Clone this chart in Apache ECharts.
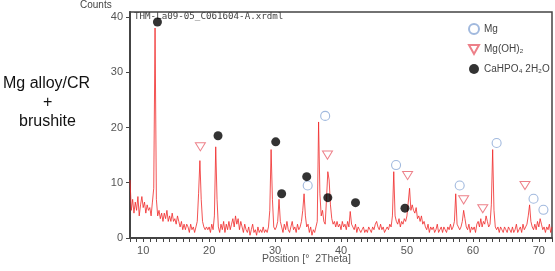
<!DOCTYPE html>
<html><head><meta charset="utf-8">
<script src="https://cdn.jsdelivr.net/npm/echarts@6/dist/echarts.min.js"></script>
<style>html,body{margin:0;padding:0;background:#fff}#c{width:555px;height:271px}</style>
</head><body><div id="c"></div>
<script>
// XRD pattern: counts read every 0.2 degree from 8.0 to 72.0 (2Theta)
const START = 8, STEP = 0.2;
const counts = [
 10.5,5,7,4.5,6.5,   5,7.5,4,6,7.5,   5.5,6.5,4.5,6,5,   5.5,4,6.5,9,38,
 7,4,5,3.5,4.5,   3,4.5,3.5,5,3,   4,3,4.5,3,3.5,   2.5,4,3,2,3,
 1.5,2.5,1.5,2.5,2,   1,2.5,1.5,2,1,   2,3,8,14,7,   3,2,1.5,2,1.5,
 2,1,2.5,1.5,4,   16.5,7,2,1,2.5,   1.5,3,1,2.5,1.5,   3,1.5,2.5,3.5,2,
 4,2.5,3.5,1.5,3,   2,1,2.5,1.5,1,   2,0.5,1.5,2.5,1,   1.5,0.5,2,1,1.5,
 1,2,1,1.5,1,   2,5,16,7,2,   1.5,2,3,7,3,   2,1,2.5,1.5,3,
 1.5,1,2,3,1.5,   2,1,2.5,1.5,2,   3,5,8,4,2,   2.5,1,2,0.5,1.5,
 1,2,3,21,8,   4,5,3,2.5,7,   12,10.5,6,3.5,2.5,   3,2,3,2,2.5,
 1.5,3,2,2.5,1.5,   3,2,4.8,2.5,2,   1.5,2.5,1,2,1.5,   1,1.5,2,1,1.5,
 1,2,1.5,1,2,   1.5,2.5,3,2,1.5,   2.5,1.5,2,1,1.5,   2,1.5,2.5,2,4,
 12,4,3,2.5,3.5,   2,3,2.5,3.5,3,   4,6.5,9,5,6,   5,4.5,5.5,3.5,4,
 3,4,2.5,3,2,   1.5,2.5,1,2,1.5,   2,1,1.5,2.5,1,   1.5,2,1,2,1.5,
 1,2,1.5,2.5,1.5,   2,3,8,2.5,2,   1.5,2,3,5,3.5,   2,1.5,2.5,1,2,
 1.5,2,1,2.5,3,   2,3.5,2,3,2.5,   4,3,2,2.5,6,   16,5,2,1.5,2,
 1,2,1.5,1,2,   1.5,1,2,1.5,1,   2,1,1.5,2.5,1,   1.5,2,1,2.5,1.5,
 2,2.5,4,6,3,   2,1.5,2.5,1.5,3,   2,3.5,2.5,1.5,2,   1,2,1.5,2.5,1,
 2
];
// Phase markers [2Theta, counts]
const mgMarks = [[34.95,9.5],[37.6,22.1],[48.35,13.2],[58.0,9.5],[63.6,17.2],[69.2,7.1],[70.7,5.1]];
const mgohMarks = [[18.67,16.5],[37.95,15.0],[50.1,11.3],[58.6,6.9],[61.5,5.3],[67.9,9.5]];
const brushiteMarks = [[12.16,39.1],[21.35,18.5],[30.1,17.4],[31.0,8.0],[34.8,11.1],[38.0,7.3],[42.2,6.4],[49.7,5.4]];
const xTickLabels = [10,20,30,40,50,60,70];
const yTickLabels = [0,10,20,30,40];
const legendNames = ['Mg','Mg(OH)\u2082','CaHPO\u2084 2H\u2082O'];

const lineData = counts.map((c,i)=>[Math.round((START+i*STEP)*10)/10, c]);
const chart = echarts.init(document.getElementById('c'), null, {renderer:'canvas'});
const axisColor = '#444', labelColor = '#555';
chart.setOption({
  animation:false,
  textStyle:{fontFamily:'Liberation Sans, Arial, sans-serif'},
  grid:{left:130, right:3, top:12, bottom:33, show:true, borderColor:axisColor, borderWidth:1.5, backgroundColor:'#fff'},
  xAxis:{type:'value', min:8, max:72, interval:1,
    axisLine:{show:true, lineStyle:{color:axisColor, width:2}},
    axisTick:{show:true, length:4, lineStyle:{color:axisColor, width:1}},
    axisLabel:{interval:0, color:labelColor, fontSize:11, margin:7,
      formatter:v=> xTickLabels.indexOf(Math.round(v))>=0 && Math.abs(v-Math.round(v))<1e-6 ? String(Math.round(v)) : ''},
    splitLine:{show:false}},
  yAxis:{type:'value', min:0, max:40.9, interval:10,
    axisLine:{show:true, lineStyle:{color:axisColor, width:2}},
    axisTick:{show:true, length:4, customValues:yTickLabels, lineStyle:{color:axisColor, width:1}},
    axisLabel:{color:labelColor, fontSize:11, margin:7, customValues:yTickLabels},
    splitLine:{show:false}},
  legend:{orient:'vertical', left:463, top:18, itemWidth:10, itemHeight:10, itemGap:9,
    textStyle:{fontSize:10, color:'#444'}, data:legendNames},
  graphic:[
    {type:'text', left:80, top:0, style:{text:'Counts', fontSize:10, fill:'#444', fontFamily:'Liberation Sans, sans-serif'}},
    {type:'text', left:134, top:12, style:{text:'THM-La09-05_C061604-A.xrdml', fontSize:9.2, fill:'#444', fontFamily:'DejaVu Sans Mono, monospace'}},
    {type:'text', left:262, top:254, style:{text:'Position [\u00b0  2Theta]', fontSize:10.5, fill:'#555', fontFamily:'Liberation Sans, Arial, sans-serif'}},
    {type:'text', left:3, top:76, style:{text:'Mg alloy/CR', fontSize:16, fill:'#111', fontFamily:'Liberation Sans, Arial, sans-serif'}},
    {type:'text', left:43, top:95, style:{text:'+', fontSize:16, fill:'#111', fontFamily:'Liberation Sans, Arial, sans-serif'}},
    {type:'text', left:19, top:114, style:{text:'brushite', fontSize:16, fill:'#111', fontFamily:'Liberation Sans, Arial, sans-serif'}}
  ],
  series:[
    {type:'line', data:lineData, showSymbol:false, clip:true, silent:true,
      lineStyle:{color:'rgba(240,40,40,0.8)', width:1}, z:2},
    {name:legendNames[0], type:'scatter', data:mgMarks, symbol:'circle', symbolSize:9,
      itemStyle:{color:'rgba(255,255,255,0)', borderColor:'#89a8d6', borderWidth:1.1}, z:3},
    {name:legendNames[1], type:'scatter', data:mgohMarks, symbol:'path://M0,0L10,0L5,9Z', symbolSize:[10,9], symbolKeepAspect:true,
      itemStyle:{color:'rgba(255,255,255,0)', borderColor:'#e8606c', borderWidth:1}, z:3},
    {name:legendNames[2], type:'scatter', data:brushiteMarks, symbol:'circle', symbolSize:9,
      itemStyle:{color:'#000'}, z:4}
  ]
});
</script></body></html>
